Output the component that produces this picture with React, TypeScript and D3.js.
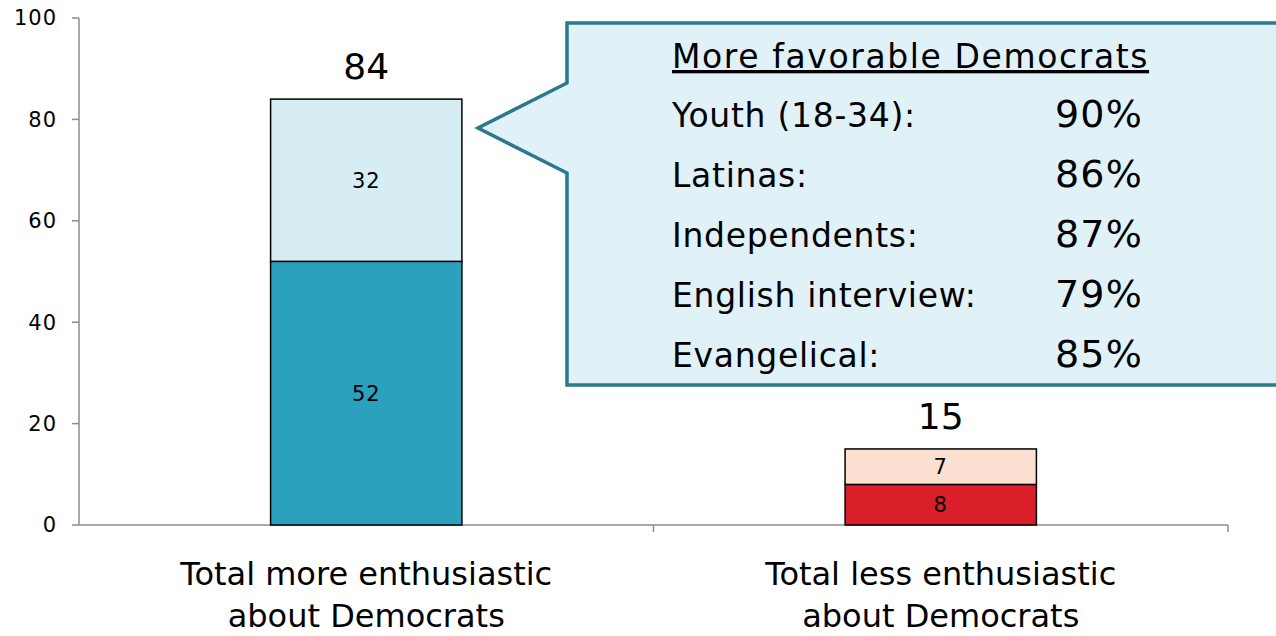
import React from "react";
import * as d3 from "d3";

const categories = ["Total more enthusiastic|about Democrats", "Total less enthusiastic|about Democrats"];
const strongValues = [52, 8];
const somewhatValues = [32, 7];
const totals = [84, 15];
const yTicks = [0, 20, 40, 60, 80, 100];
const calloutTitle = "More favorable Democrats";
const calloutLabels = ["Youth (18-34):", "Latinas:", "Independents:", "English interview:", "Evangelical:"];
const calloutValues = ["90%", "86%", "87%", "79%", "85%"];

const W = 1276, H = 636;
const FONT = "'DejaVu Sans', sans-serif";

export default function App() {
  const x = d3.scaleBand().domain(categories).range([79, 1228]).paddingInner(0).paddingOuter(0);
  const y = d3.scaleLinear().domain([0, 100]).range([525, 18]);
  const barW = x.bandwidth() * 0.333;
  const strongColors = ["#2ca1bd", "#db1f2a"];
  const somewhatColors = ["#d5edf3", "#fbdfd0"];

  const cx0 = 567, cy0 = 23, cx1 = 1290, cy1 = 385;
  const calloutPath = `M${cx0},${cy0} L${cx1},${cy0} L${cx1},${cy1} L${cx0},${cy1} L${cx0},173 L478,128 L${cx0},83 Z`;

  return (
    <svg width={W} height={H} style={{ position: "absolute", left: 0, top: 0 }} fontFamily={FONT}>
      {/* y axis */}
      <line x1={79} x2={79} y1={y(100)} y2={y(0)} stroke="#8c8c8c" strokeWidth={1.5} />
      {yTicks.map((t) => (
        <g key={t}>
          <line x1={72} x2={79} y1={y(t)} y2={y(t)} stroke="#8c8c8c" strokeWidth={1.5} />
          <text x={57} y={y(t)} dy="0.35em" textAnchor="end" fontSize={21} letterSpacing={1} fill="#000">{t}</text>
        </g>
      ))}
      {/* x axis */}
      <line x1={79} x2={1228} y1={y(0)} y2={y(0)} stroke="#8c8c8c" strokeWidth={1.5} />
      {[x(categories[1])!, 1228].map((v, i) => (
        <line key={i} x1={v} x2={v} y1={y(0)} y2={y(0) + 7} stroke="#8c8c8c" strokeWidth={1.5} />
      ))}
      {/* bars */}
      {categories.map((c, i) => {
        const bx = x(c)! + (x.bandwidth() - barW) / 2;
        const mid = bx + barW / 2;
        const s = strongValues[i], m = somewhatValues[i];
        return (
          <g key={c}>
            <rect x={bx} y={y(s)} width={barW} height={y(0) - y(s)} fill={strongColors[i]} stroke="#000" strokeWidth={1.5} />
            <rect x={bx} y={y(s + m)} width={barW} height={y(s) - y(s + m)} fill={somewhatColors[i]} stroke="#000" strokeWidth={1.5} />
            <text x={mid} y={(y(0) + y(s)) / 2} dy="0.35em" textAnchor="middle" fontSize={21} letterSpacing={1}>{s}</text>
            <text x={mid} y={(y(s) + y(s + m)) / 2} dy="0.35em" textAnchor="middle" fontSize={21} letterSpacing={1}>{m}</text>
            <text x={mid} y={y(totals[i]) - 20} textAnchor="middle" fontSize={36}>{totals[i]}</text>
            {c.split("|").map((line, j) => (
              <text key={j} x={mid} y={585 + j * 42} textAnchor="middle" fontSize={32}>{line}</text>
            ))}
          </g>
        );
      })}
      {/* callout */}
      <path d={calloutPath} fill="#e0f2f7" stroke="#2a7a8c" strokeWidth={3.5} strokeLinejoin="miter" />
      <text x={672} y={68} fontSize={33} letterSpacing={1.6} textDecoration="underline">{calloutTitle}</text>
      {calloutLabels.map((l, i) => (
        <g key={l}>
          <text x={672} y={127 + i * 60} fontSize={33} letterSpacing={0.7}>{l}</text>
          <text x={1143} y={127 + i * 60} fontSize={38} letterSpacing={1.2} textAnchor="end">{calloutValues[i]}</text>
        </g>
      ))}
    </svg>
  );
}
